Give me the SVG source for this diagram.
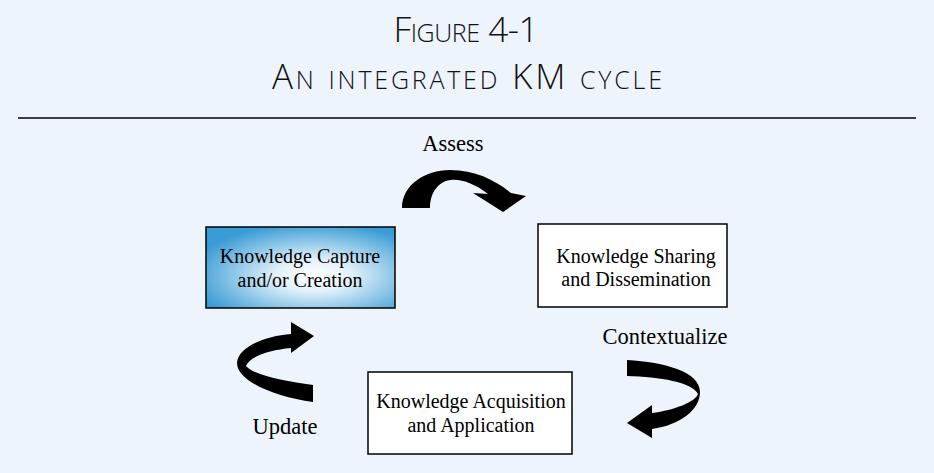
<svg xmlns="http://www.w3.org/2000/svg" width="934" height="473" viewBox="0 0 934 473">
<style>
.title{font-family:"Open Sans","Liberation Sans",sans-serif;font-weight:300;font-variant:small-caps;font-size:35px;fill:#111;text-anchor:middle}
.box{stroke:#000;stroke-width:1.5}
.ntext{font-family:"Liberation Serif","DejaVu Serif",serif;font-size:20px;fill:#000;text-anchor:middle}
.label{font-family:"Liberation Serif","DejaVu Serif",serif;font-size:22.5px;fill:#000;text-anchor:middle}
.arrow{fill:#000}
</style>
<defs>
<radialGradient id="blueGrad" cx="0.57" cy="0.6" r="0.65">
<stop offset="0" stop-color="#ffffff"/>
<stop offset="0.3" stop-color="#e2f1fa"/>
<stop offset="1" stop-color="#3a9cd6"/>
</radialGradient>
</defs>
<rect x="0" y="0" width="934" height="473" fill="#eef4fb"/>
<g id="title">
<text class="title" x="466" y="42" textLength="145">Figure 4-1</text>
<text class="title" x="467" y="89" textLength="390">An integrated KM cycle</text>
<line x1="18" y1="118" x2="916" y2="118" stroke="#000" stroke-width="1.5"/>
</g>
<g id="node-capture">
<rect class="box" x="206" y="227" width="189" height="81" fill="url(#blueGrad)"/>
<text class="ntext" x="300" y="263">Knowledge Capture</text>
<text class="ntext" x="300" y="287">and/or Creation</text>
</g>
<g id="node-sharing">
<rect class="box" x="538" y="224" width="189" height="83" fill="#fff"/>
<text class="ntext" x="636" y="263">Knowledge Sharing</text>
<text class="ntext" x="636" y="286">and Dissemination</text>
</g>
<g id="node-acquisition">
<rect class="box" x="368" y="372" width="204" height="82" fill="#fff"/>
<text class="ntext" x="471" y="408">Knowledge Acquisition</text>
<text class="ntext" x="471" y="432">and Application</text>
</g>
<g id="connectors">
<path class="arrow" d="M 402 208 C 402 185, 425 170, 450 170 C 475 170, 495 180, 511 193 L 526 196 L 503 212 L 473 193 L 488 194 C 475 184, 462 179, 451 180 C 439 181, 430 192, 430 208 Z"/>
<path class="arrow" d="M 627 360 C 665 362, 700 372, 700 392 C 700 410, 680 425, 652 429 L 652 438 L 627 423 L 652 405 L 652 413 C 675 410, 695 402, 698 394 C 692 382, 660 377, 627 376 Z"/>
<path class="arrow" d="M 313 402 L 313 385 C 285 381, 255 376, 246 366 C 250 356, 270 350, 291 348 L 291 353 L 314 336 L 291 322 L 291 334 C 265 336, 238 347, 237 363 C 237 381, 275 397, 313 402 Z"/>
</g>
<g id="labels">
<text class="label" x="453" y="151">Assess</text>
<text class="label" x="665" y="344">Contextualize</text>
<text class="label" x="285" y="434">Update</text>
</g>
</svg>
